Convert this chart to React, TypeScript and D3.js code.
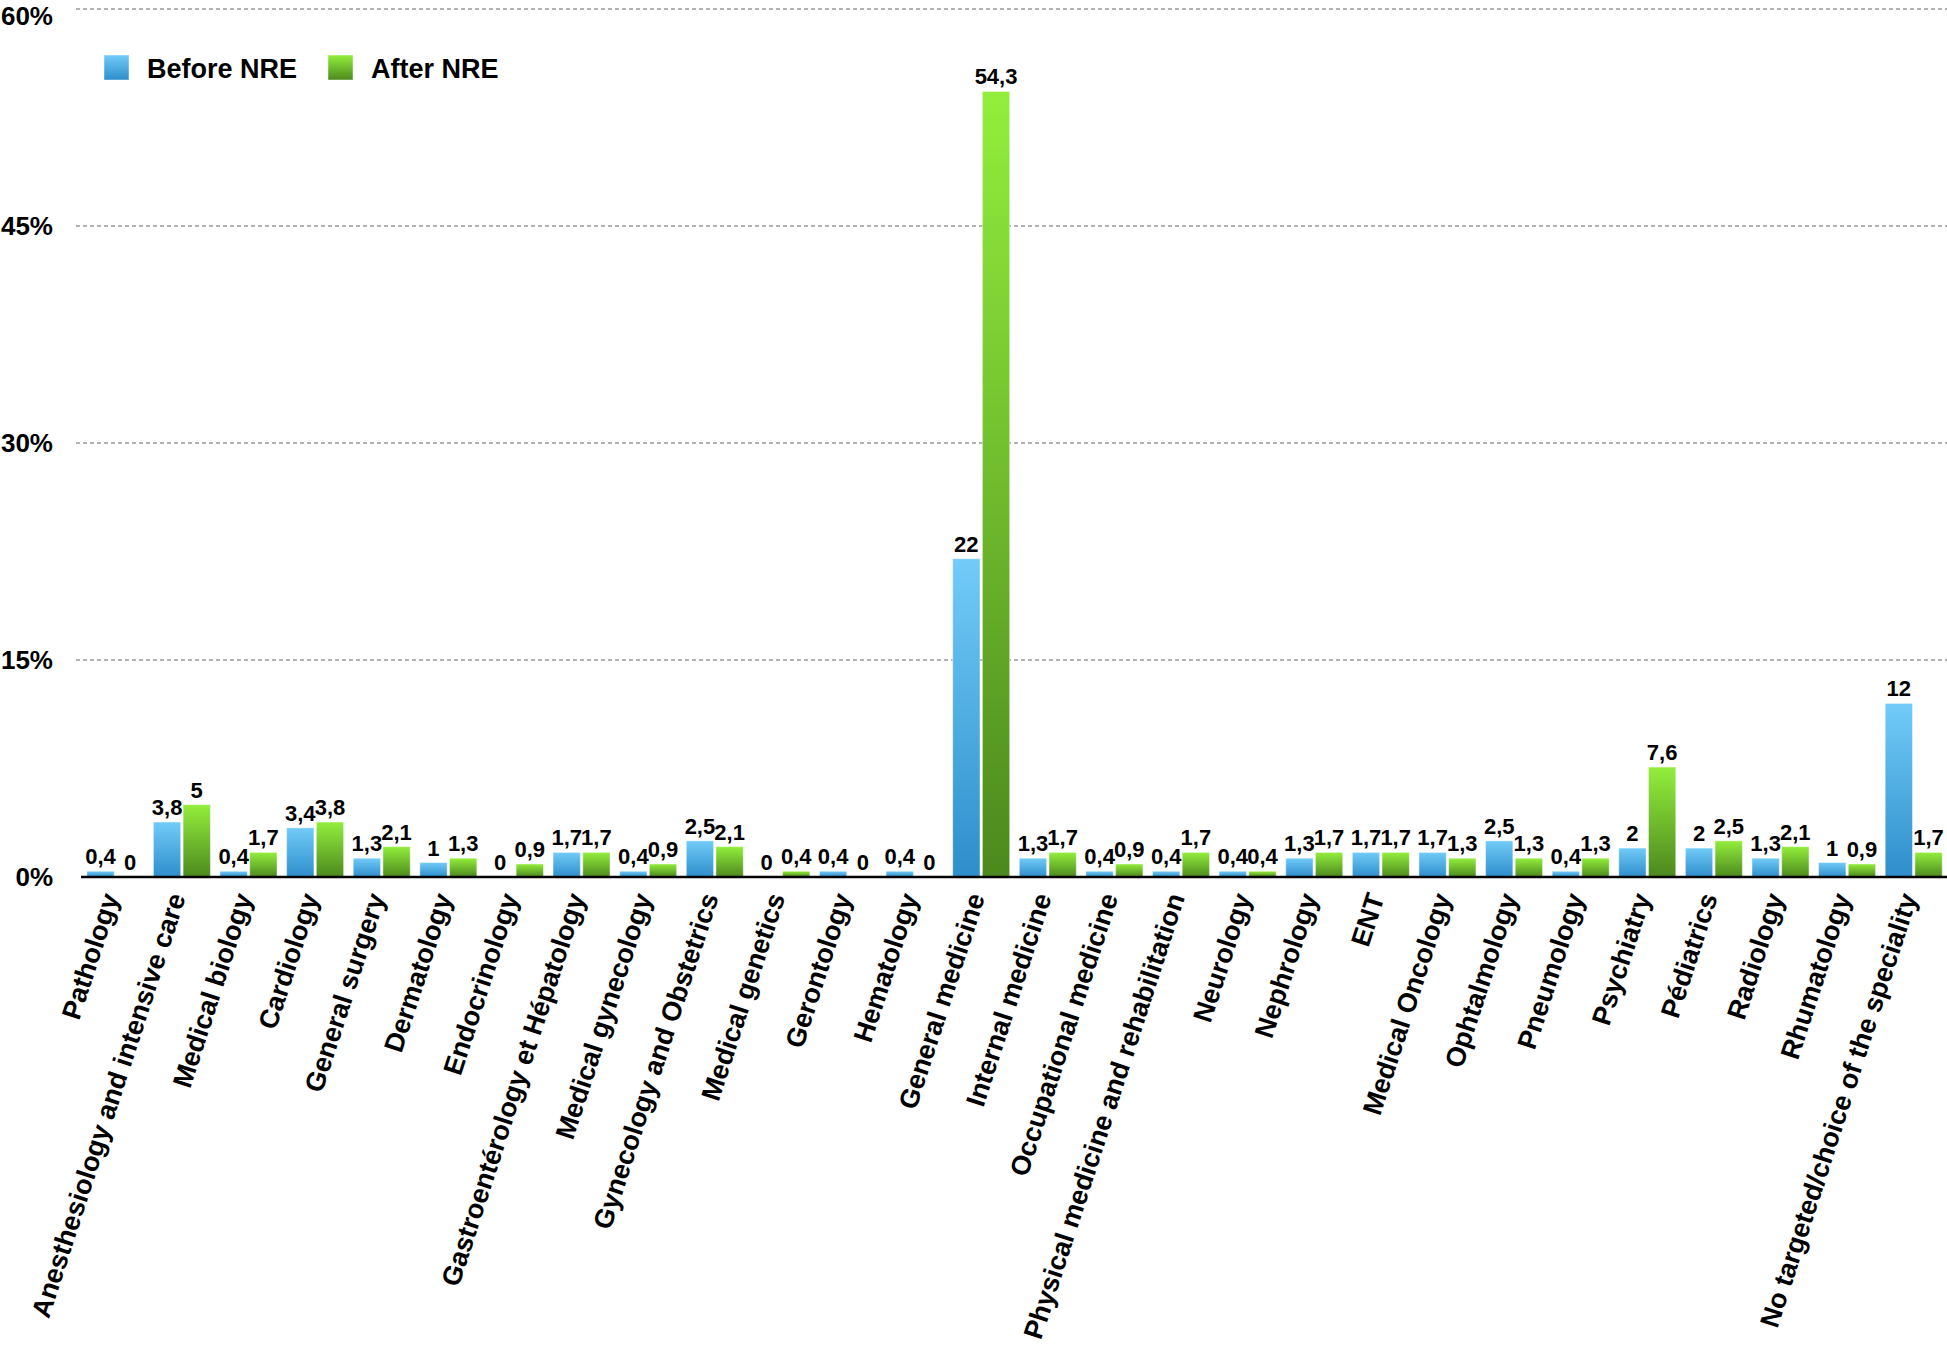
import React, { useEffect, useRef } from 'react';
import * as d3 from 'd3';

const categories = [
  'Pathology',
  'Anesthesiology and intensive care',
  'Medical biology',
  'Cardiology',
  'General surgery',
  'Dermatology',
  'Endocrinology',
  'Gastroentérology et Hépatology',
  'Medical gynecology',
  'Gynecology and Obstetrics',
  'Medical genetics',
  'Gerontology',
  'Hematology',
  'General medicine',
  'Internal medicine',
  'Occupational medicine',
  'Physical medicine and rehabilitation',
  'Neurology',
  'Nephrology',
  'ENT',
  'Medical Oncology',
  'Ophtalmology',
  'Pneumology',
  'Psychiatry',
  'Pédiatrics',
  'Radiology',
  'Rhumatology',
  'No targeted/choice of the speciality',
];

const beforeNRE = [0.4, 3.8, 0.4, 3.4, 1.3, 1, 0, 1.7, 0.4, 2.5, 0, 0.4, 0.4, 22, 1.3, 0.4, 0.4, 0.4, 1.3, 1.7, 1.7, 2.5, 0.4, 2, 2, 1.3, 1, 12];
const afterNRE = [0, 5, 1.7, 3.8, 2.1, 1.3, 0.9, 1.7, 0.9, 2.1, 0.4, 0, 0, 54.3, 1.7, 0.9, 1.7, 0.4, 1.7, 1.7, 1.3, 1.3, 1.3, 7.6, 2.5, 2.1, 0.9, 1.7];

const seriesNames = ['Before NRE', 'After NRE'];
const yTicks = [0, 15, 30, 45, 60];

const width = 1947;
const height = 1348;
const FONT = '"Liberation Sans", Arial, Helvetica, sans-serif';

export default function App() {
  const svgRef = useRef<SVGSVGElement>(null);

  useEffect(() => {
    const svg = d3.select(svgRef.current);
    svg.selectAll('*').remove();

    const margins = { left: 82, right: 0, top: 9, bottom: 471 };
    const y0 = height - margins.bottom;

    // scales
    const x = d3.scaleBand<string>()
      .domain(categories)
      .range([margins.left, width - margins.right])
      .paddingInner(0.144)
      .paddingOuter(0.072);
    const xSeries = d3.scaleBand<string>()
      .domain(seriesNames)
      .range([0, x.bandwidth()])
      .paddingInner(0.08);
    const y = d3.scaleLinear().domain([0, 60]).range([y0, margins.top]);

    // gradients
    const defs = svg.append('defs');
    const grads = [
      { id: 'grad-before', top: '#72cbf8', bottom: '#2e8ecb' },
      { id: 'grad-after', top: '#93ee3c', bottom: '#4c891e' },
    ];
    grads.forEach(g => {
      const lg = defs.append('linearGradient')
        .attr('id', g.id)
        .attr('x1', 0).attr('y1', 0).attr('x2', 0).attr('y2', 1);
      lg.append('stop').attr('offset', '0%').attr('stop-color', g.top);
      lg.append('stop').attr('offset', '100%').attr('stop-color', g.bottom);
    });

    // gridlines
    svg.append('g')
      .selectAll('line')
      .data(yTicks.filter(t => t > 0))
      .enter()
      .append('line')
      .attr('x1', 76)
      .attr('x2', width)
      .attr('y1', d => y(d))
      .attr('y2', d => y(d))
      .attr('stroke', '#9a9a9a')
      .attr('stroke-width', 1.5)
      .attr('stroke-dasharray', '4,3');

    // y labels (top one nudged down so it stays inside the picture)
    svg.append('g')
      .selectAll('text')
      .data(yTicks)
      .enter()
      .append('text')
      .attr('x', 53)
      .attr('y', d => Math.max(y(d), 16))
      .attr('dy', '0.36em')
      .attr('text-anchor', 'end')
      .style('font-family', FONT)
      .style('font-weight', 'bold')
      .style('font-size', '26px')
      .text(d => `${d}%`);

    // bars
    const rows = categories.map((c, i) => ({ c, values: [beforeNRE[i], afterNRE[i]] }));
    const groups = svg.append('g')
      .selectAll('g')
      .data(rows)
      .enter()
      .append('g')
      .attr('transform', d => `translate(${x(d.c)},0)`);

    const bars = groups.selectAll('g')
      .data(d => d.values.map((v, k) => ({ v, k })))
      .enter()
      .append('g');

    bars.filter(d => d.v > 0)
      .append('rect')
      .attr('x', d => xSeries(seriesNames[d.k])!)
      .attr('width', xSeries.bandwidth())
      .attr('y', d => y(d.v))
      .attr('height', d => y0 - y(d.v))
      .attr('fill', d => `url(#${grads[d.k].id})`)
      .attr('stroke', 'rgba(255,255,255,0.45)')
      .attr('stroke-width', 1);

    bars.append('text')
      .attr('x', d => xSeries(seriesNames[d.k])! + xSeries.bandwidth() / 2)
      .attr('y', d => y(d.v) - 7)
      .attr('text-anchor', 'middle')
      .style('font-family', FONT)
      .style('font-weight', 'bold')
      .style('font-size', '22px')
      .text(d => String(d.v).replace('.', ','));

    // x axis line
    svg.append('line')
      .attr('x1', 81)
      .attr('x2', width)
      .attr('y1', y0)
      .attr('y2', y0)
      .attr('stroke', '#000')
      .attr('stroke-width', 2.5);

    // category labels
    svg.append('g')
      .selectAll('text')
      .data(categories)
      .enter()
      .append('text')
      .attr('transform', d => `translate(${x(d)! + x.bandwidth() / 2 + 4},${y0 + 20}) rotate(-72)`)
      .attr('text-anchor', 'end')
      .style('font-family', FONT)
      .style('font-weight', 'bold')
      .style('font-size', '27px')
      .text(d => d);

    // legend
    const legend = svg.append('g');
    const legendX = [104, 328];
    seriesNames.forEach((name, k) => {
      legend.append('rect')
        .attr('x', legendX[k])
        .attr('y', 55)
        .attr('width', 25)
        .attr('height', 25)
        .attr('fill', `url(#${grads[k].id})`)
        .attr('stroke', 'rgba(255,255,255,0.45)');
      legend.append('text')
        .attr('x', legendX[k] + 43)
        .attr('y', 78)
        .style('font-family', FONT)
        .style('font-weight', 'bold')
        .style('font-size', '27px')
        .text(name);
    });
  }, []);

  return (
    <svg
      ref={svgRef}
      width={width}
      height={height}
      style={{ position: 'absolute', left: 0, top: 0, display: 'block', background: '#fff' }}
    />
  );
}
